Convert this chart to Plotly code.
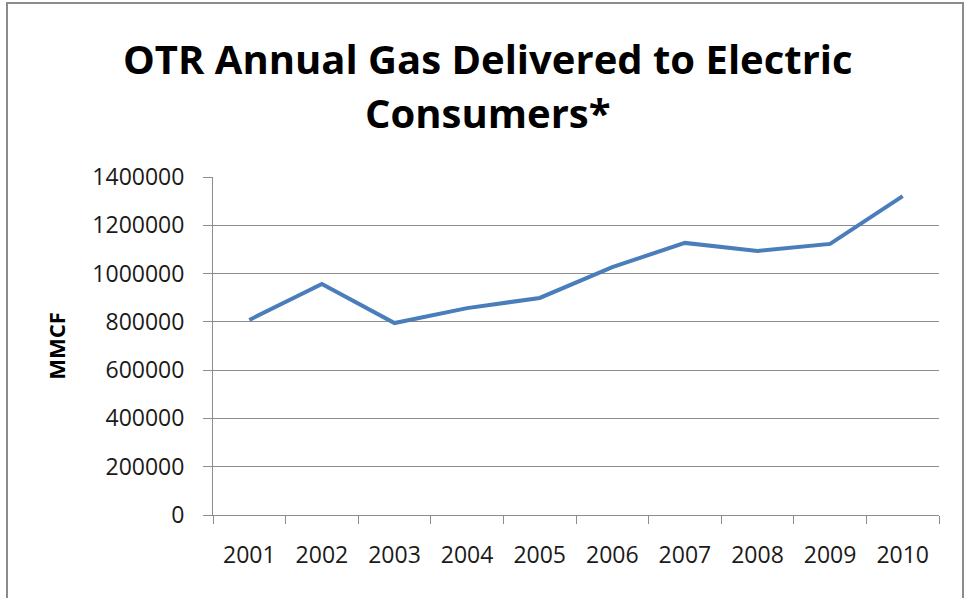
import plotly.graph_objects as go

years = ["2001", "2002", "2003", "2004", "2005", "2006", "2007", "2008", "2009", "2010"]
mmcf = [808000, 957000, 795000, 857000, 899000, 1027000, 1127000, 1094000, 1123000, 1321000]
y_ticks = [0, 200000, 400000, 600000, 800000, 1000000, 1200000, 1400000]

W, H = 967, 598
L, R, T, B = 213, 939, 177, 515
pw, ph = R - L, B - T

def px(x):
    return (x - L) / pw

def py(y):
    return (B - y) / ph

FONT = "Open Sans"

fig = go.Figure()
fig.add_trace(go.Scatter(
    x=years, y=mmcf, mode="lines",
    line=dict(color="#4a7ebb", width=4),
    showlegend=False, hoverinfo="x+y",
))

fig.update_layout(
    width=W, height=H,
    margin=dict(l=L, r=W - R, t=T, b=H - B, pad=0),
    paper_bgcolor="white", plot_bgcolor="white",
    font=dict(family=FONT, color="#000000"),
    xaxis=dict(
        type="category", range=[-0.5, 9.5],
        tickson="boundaries", ticks="outside", ticklen=8, tickcolor="#8c8c8c", tickwidth=1,
        showgrid=False, showline=True, linecolor="#8c8c8c", linewidth=1,
        tickfont=dict(family=FONT, size=23, color="#1a1a1a"),
        ticklabelstandoff=19, zeroline=False,
    ),
    yaxis=dict(
        range=[0, 1400000], tickmode="array", tickvals=y_ticks,
        ticktext=[str(v) for v in y_ticks],
        ticks="outside", ticklen=9, tickcolor="#8c8c8c", tickwidth=1,
        showgrid=True, gridcolor="#8c8c8c", gridwidth=1,
        showline=True, linecolor="#8c8c8c", linewidth=1, zeroline=False,
        tickfont=dict(family=FONT, size=23, color="#1a1a1a"),
        ticklabelstandoff=14,
        title=dict(text="<b>MMCF</b>", font=dict(family=FONT, size=22, color="#000000"), standoff=20),
    ),
    shapes=[dict(
        type="rect", xref="paper", yref="paper",
        x0=px(7), x1=px(963), y0=py(606), y1=py(3),
        line=dict(color="#8c8c8c", width=2), fillcolor="rgba(0,0,0,0)", layer="below",
    )],
    annotations=[
        dict(text="<b>OTR Annual Gas Delivered to Electric</b>", xref="paper", yref="paper",
             x=px(487.5), y=py(58), xanchor="center", yanchor="middle", showarrow=False,
             font=dict(family=FONT, size=40, color="#000000")),
        dict(text="<b>Consumers*</b>", xref="paper", yref="paper",
             x=px(487.5), y=py(112), xanchor="center", yanchor="middle", showarrow=False,
             font=dict(family=FONT, size=40, color="#000000")),
    ],
)

fig.write_html("out.html")
